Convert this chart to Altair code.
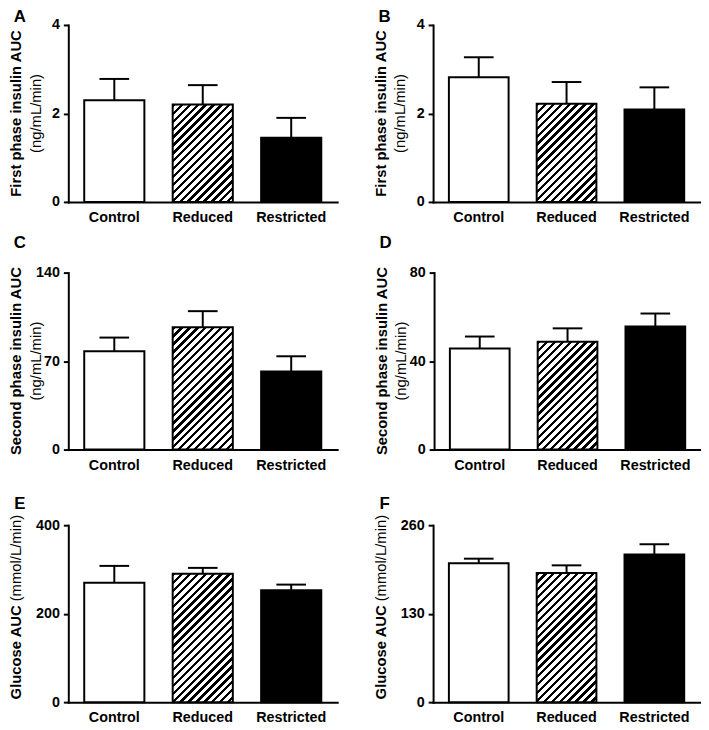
import math
import altair as alt
import pandas as pd

FONT = "Liberation Sans"

groups = ["Control", "Reduced", "Restricted"]

letters = ["A", "B", "C", "D", "E", "F"]
titles_bold = ["First phase insulin AUC", "First phase insulin AUC",
               "Second phase insulin AUC", "Second phase insulin AUC",
               "Glucose AUC", "Glucose AUC"]
titles_unit = ["(ng/mL/min)", "(ng/mL/min)", "(ng/mL/min)", "(ng/mL/min)",
               "(mmol/L/min)", "(mmol/L/min)"]
y_max = [4, 4, 140, 80, 400, 260]
y_ticks = [[0, 2, 4], [0, 2, 4], [0, 70, 140], [0, 40, 80], [0, 200, 400], [0, 130, 260]]

mean_A = [2.30, 2.20, 1.45]
sem_A = [0.48, 0.44, 0.45]
mean_B = [2.82, 2.22, 2.09]
sem_B = [0.45, 0.49, 0.50]
mean_C = [77.7, 96.7, 61.8]
sem_C = [10.9, 12.8, 12.0]
mean_D = [45.7, 48.7, 55.6]
sem_D = [5.4, 6.1, 5.9]
mean_E = [270, 290, 253]
sem_E = [38, 13.5, 12.7]
mean_F = [204, 189.6, 217]
sem_F = [6.8, 11.4, 15]

means = [mean_A, mean_B, mean_C, mean_D, mean_E, mean_F]
sems = [sem_A, sem_B, sem_C, sem_D, sem_E, sem_F]

PAD_IN = 0.32
PAD_OUT = 0.18
H = 179
WIDTHS = [272, 270]
letter_dy = [-16, -16, -38, -38, -29, -29]


def hatch_gradient(w, h, period=8.0, black=0.42):
    n = (w + h) / period
    stops = []
    k = 0
    while k / n < 1:
        a = k / n
        b = min(1.0, (k + black) / n)
        stops += [alt.GradientStop(offset=a, color="black"),
                  alt.GradientStop(offset=b, color="black"),
                  alt.GradientStop(offset=b, color="white")]
        c = min(1.0, (k + 1) / n)
        stops.append(alt.GradientStop(offset=c, color="white"))
        k += 1
    f = (w + h) / (w * w + h * h)
    return alt.Gradient(gradient="linear", stops=stops,
                        x1=0, y1=0, x2=w * f, y2=h * f)


def panel(i):
    width = WIDTHS[i % 2]
    m = means[i]
    s = sems[i]
    df = pd.DataFrame({"group": groups, "mean": m,
                       "upper": [a + b for a, b in zip(m, s)]})
    xs = alt.Scale(domain=groups, paddingInner=PAD_IN, paddingOuter=PAD_OUT)
    ys = alt.Scale(domain=[0, y_max[i]], nice=False)
    x = alt.X("group:N", scale=xs, sort=groups,
              axis=alt.Axis(title=None, labelAngle=0, ticks=False, tickSize=0,
                            domainWidth=2, domainColor="black", domainCap="square",
                            labelFont=FONT, labelFontSize=14.5, labelFontWeight="bold",
                            labelColor="black", labelPadding=9))
    y = alt.Y("mean:Q", scale=ys,
              axis=alt.Axis(title=None, values=y_ticks[i], grid=False, tickSize=5,
                            tickWidth=2, tickColor="black", domainWidth=2,
                            domainColor="black", domainCap="square",
                            labelFont=FONT, labelFontSize=14.5, labelFontWeight="bold",
                            labelColor="black", labelPadding=4, format="d"))
    base = alt.Chart(df)
    err = base.mark_rule(color="black", strokeWidth=2).encode(x=x, y=y, y2="upper:Q")
    cap = base.mark_tick(color="black", thickness=2, size=30, opacity=1).encode(
        x=x, y=alt.Y("upper:Q", scale=ys))
    plain = base.transform_filter(alt.datum.group != "Reduced").mark_bar(
        stroke="black", strokeWidth=2).encode(
        x=x, y=y,
        fill=alt.Fill("group:N", scale=alt.Scale(domain=["Control", "Restricted"],
                                                  range=["white", "black"]), legend=None))
    step = width / (3 - PAD_IN + 2 * PAD_OUT)
    bw = step * (1 - PAD_IN)
    bh = m[1] / y_max[i] * H
    hatched = base.transform_filter(alt.datum.group == "Reduced").mark_bar(
        stroke="black", strokeWidth=2, fill=hatch_gradient(bw, bh)).encode(x=x, y=y)

    tdf = pd.DataFrame({"t": [letters[i]]})
    letter = alt.Chart(tdf).mark_text(font=FONT, fontSize=17, fontWeight="bold",
                                      align="center", baseline="top",
                                      color="black").encode(
        text="t:N", x=alt.value(-49), y=alt.value(letter_dy[i]))
    layers = [err, cap, plain, hatched, letter]
    if i < 4:
        t1 = alt.Chart(pd.DataFrame({"t": [titles_bold[i]]})).mark_text(
            font=FONT, fontSize=15, fontWeight="bold", angle=270, align="center",
            baseline="middle", color="black").encode(
            text="t:N", x=alt.value(-53), y=alt.value(H / 2))
        t2 = alt.Chart(pd.DataFrame({"t": [titles_unit[i]]})).mark_text(
            font=FONT, fontSize=15, angle=270, align="center",
            baseline="middle", color="black").encode(
            text="t:N", x=alt.value(-33), y=alt.value(H / 2))
    else:
        split = 81
        t1 = alt.Chart(pd.DataFrame({"t": [titles_bold[i]]})).mark_text(
            font=FONT, fontSize=15, fontWeight="bold", angle=270, align="right",
            baseline="middle", color="black").encode(
            text="t:N", x=alt.value(-53), y=alt.value(split))
        t2 = alt.Chart(pd.DataFrame({"t": [titles_unit[i]]})).mark_text(
            font=FONT, fontSize=15, angle=270, align="left",
            baseline="middle", color="black").encode(
            text="t:N", x=alt.value(-53), y=alt.value(split - 4))
    layers += [t1, t2]
    return alt.layer(*layers).properties(width=width, height=H)


p = [panel(i) for i in range(6)]
row1 = alt.hconcat(p[0], p[1], spacing=37)
row2 = alt.hconcat(p[2], p[3], spacing=37)
row3 = alt.hconcat(p[4], p[5], spacing=37)
inner = alt.vconcat(row2, row3, spacing=23.5)
chart = alt.vconcat(row1, inner, spacing=9.5).properties(
    padding={"top": -4, "left": 0, "right": 0, "bottom": 0},
    background="white").configure_view(stroke=None)

chart.save("out.html", embed_options={"renderer": "svg", "actions": False})
